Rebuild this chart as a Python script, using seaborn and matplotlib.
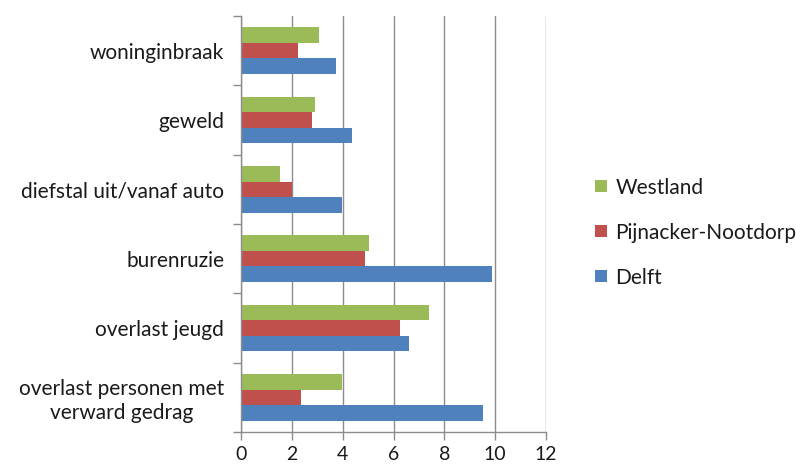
import pandas as pd
import numpy as np
import matplotlib
matplotlib.use("Agg")
import matplotlib.pyplot as plt
import seaborn as sns
from matplotlib.ticker import MultipleLocator

categories = ["woninginbraak", "geweld", "diefstal uit/vanaf auto", "burenruzie",
              "overlast jeugd", "overlast personen met\nverward gedrag"]
westland = [3.05, 2.92, 1.53, 5.04, 7.39, 3.99]
pijnacker = [2.26, 2.79, 2.0, 4.87, 6.26, 2.36]
delft = [3.74, 4.36, 3.99, 9.87, 6.62, 9.51]
series = ["Westland", "Pijnacker-Nootdorp", "Delft"]
colors = ["#9BBB59", "#C0504D", "#4F81BD"]

df = pd.DataFrame({
    "categorie": categories * 3,
    "waarde": westland + pijnacker + delft,
    "gebied": [s for s in series for _ in categories],
})

sns.set_style("white")
plt.rcParams["font.family"] = ["Lato", "DejaVu Sans"]
plt.rcParams["text.color"] = "#1a1a1a"
plt.rcParams["xtick.labelcolor"] = "#1a1a1a"
plt.rcParams["ytick.labelcolor"] = "#1a1a1a"

fig = plt.figure(figsize=(7.96, 4.65), dpi=100)
ax = fig.add_axes([241 / 796, 33 / 465, 305 / 796, 416 / 465])

sns.barplot(data=df, y="categorie", x="waarde", hue="gebied", order=categories,
            hue_order=series, palette=colors, orient="h", width=0.67,
            saturation=1, ax=ax, edgecolor="none")

ax.set_xlim(0, 12)
ax.set_ylim(len(categories) - 0.5, -0.5)
ax.xaxis.set_major_locator(MultipleLocator(2))
ax.grid(axis="x", color="#8c8c8c", linewidth=1)
ax.set_axisbelow(True)
ax.set_xlabel("")
ax.set_ylabel("")

ax.set_yticks(np.arange(-0.5, len(categories), 1), minor=True)
ax.tick_params(axis="y", which="major", length=0, labelsize=15, pad=12)
ax.tick_params(axis="y", which="minor", length=6, color="#8c8c8c", width=1, left=True)
ax.tick_params(axis="x", length=6, color="#8c8c8c", width=1, labelsize=14, pad=4, bottom=True)
for lbl in ax.get_yticklabels():
    lbl.set_multialignment("center")

for side in ["top", "right"]:
    ax.spines[side].set_visible(False)
for side in ["left", "bottom"]:
    ax.spines[side].set_color("#8c8c8c")
    ax.spines[side].set_linewidth(1)

handles, labels = ax.get_legend_handles_labels()
ax.legend(handles, labels, loc="center left", bbox_to_anchor=(585 / 796, 0.5),
          bbox_transform=fig.transFigure, frameon=False, fontsize=15,
          handlelength=0.55, handleheight=0.55, labelspacing=1.2, handletextpad=0.4,
          borderpad=0)

fig.savefig("out.png", dpi=100)
